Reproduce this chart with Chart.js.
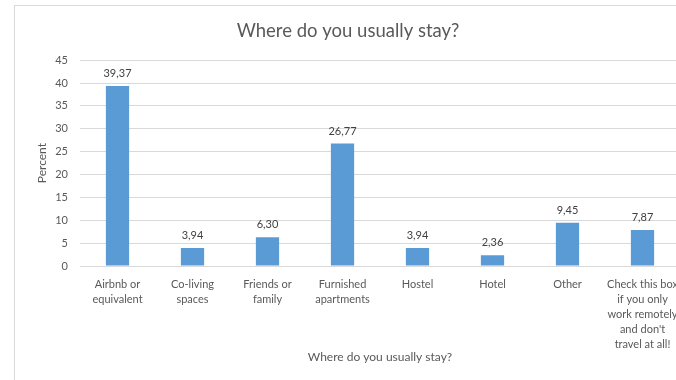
<!DOCTYPE html>
<html>
<head>
<meta charset="utf-8">
<script src="https://cdn.jsdelivr.net/npm/chart.js@4/dist/chart.umd.min.js"></script>
<style>
  html, body { margin: 0; padding: 0; background: #fff; overflow: hidden; width: 676px; height: 380px; }
  #clip { position: absolute; left: 0; top: 0; width: 676px; height: 380px; overflow: hidden; }
  #frame { position: absolute; left: 14px; top: 5px; width: 720px; height: 400px; border-left: 1px solid #d9d9d9; border-top: 1px solid #d9d9d9; box-sizing: border-box; }
  #wrap { position: absolute; left: 1px; top: 1px; width: 688px; height: 361px; }
</style>
</head>
<body>
<div id="clip"><div id="frame"><div id="wrap"><canvas id="c"></canvas></div></div></div>
<script>
const categories = [
  ["Airbnb or", "equivalent"],
  ["Co-living", "spaces"],
  ["Friends or", "family"],
  ["Furnished", "apartments"],
  ["Hostel"],
  ["Hotel"],
  ["Other"],
  ["Check this box", "if you only", "work remotely", "and don't", "travel at all!"]
];
const percentValues = [39.37, 3.94, 6.30, 26.77, 3.94, 2.36, 9.45, 7.87];
const yTicks = [0, 5, 10, 15, 20, 25, 30, 35, 40, 45];
const chartTitle = "Where do you usually stay?";
const xAxisTitle = "Where do you usually stay?";
const yAxisTitle = "Percent";

const FONT = "Lato, 'Open Sans', sans-serif";
const TEXT = "#595959";

const dataLabels = {
  id: "dataLabels",
  afterDatasetsDraw(chart) {
    const ctx = chart.ctx;
    const meta = chart.getDatasetMeta(0);
    ctx.save();
    ctx.font = "11px " + FONT;
    ctx.fillStyle = "#404040";
    ctx.textAlign = "center";
    ctx.textBaseline = "bottom";
    meta.data.forEach((bar, i) => {
      const v = chart.data.datasets[0].data[i];
      ctx.fillText(v.toFixed(2).replace(".", ","), bar.x, bar.y - 7);
    });
    ctx.restore();
  }
};

new Chart(document.getElementById("c"), {
  type: "bar",
  data: {
    labels: categories,
    datasets: [{
      data: percentValues,
      backgroundColor: "#5b9bd5",
      borderWidth: 0,
      barPercentage: 0.62,
      categoryPercentage: 0.5
    }]
  },
  options: {
    responsive: true,
    maintainAspectRatio: false,
    animation: false,
    layout: { padding: { left: 0, right: 24, top: 0, bottom: 0 } },
    plugins: {
      legend: { display: false },
      tooltip: { enabled: false },
      title: {
        display: true,
        text: chartTitle,
        color: TEXT,
        font: { family: FONT, size: 18.5, weight: "normal" },
        padding: { top: 13, bottom: 18 }
      }
    },
    scales: {
      x: {
        grid: { display: false, drawTicks: false },
        border: { display: true, color: "#d9d9d9" },
        ticks: {
          color: TEXT,
          font: { family: FONT, size: 11, lineHeight: 1.36 },
          padding: 11,
          maxRotation: 0,
          autoSkip: false
        },
        title: {
          display: true,
          text: xAxisTitle,
          color: TEXT,
          font: { family: FONT, size: 12 },
          padding: { top: 4, bottom: 4 }
        },
        afterFit(s) { s.height = 102; }
      },
      y: {
        min: 0,
        max: 45,
        afterBuildTicks(s) { s.ticks = yTicks.map(v => ({ value: v })); },
        grid: { color: "#d9d9d9", drawTicks: false },
        border: { display: false },
        ticks: {
          color: TEXT,
          font: { family: FONT, size: 11 },
          padding: 12
        },
        title: {
          display: true,
          text: yAxisTitle,
          color: TEXT,
          font: { family: FONT, size: 12 },
          padding: { top: 19, bottom: 0 }
        },
        afterFit(s) { s.width = 64; }
      }
    }
  },
  plugins: [dataLabels]
});
</script>
</body>
</html>
